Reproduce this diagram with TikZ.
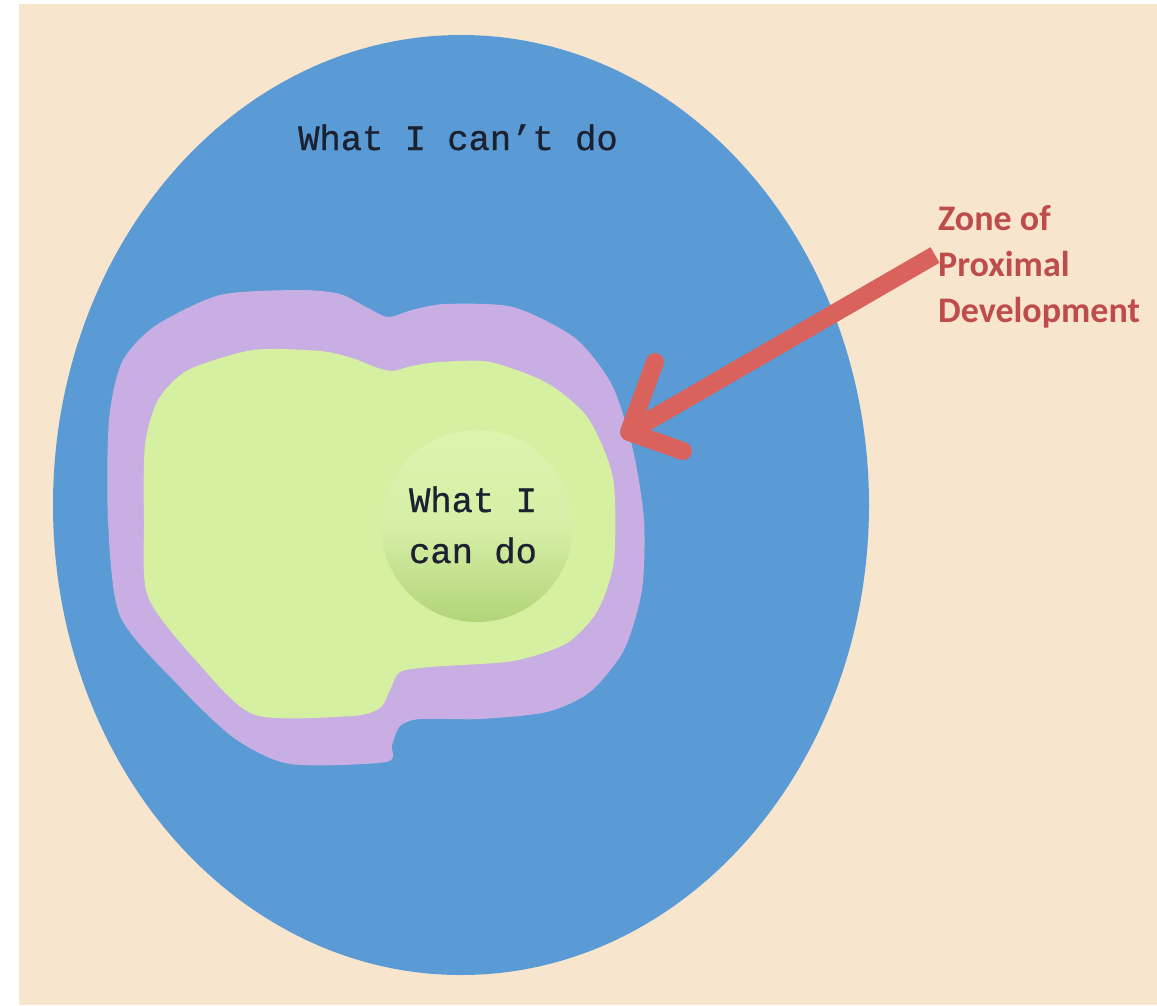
\documentclass[tikz,border=0pt]{standalone}
\usepackage{fontspec}
\setmonofont[FakeBold=0.8]{Liberation Mono}
\newfontfamily\zpdfont{Carlito}
\definecolor{bgbeige}{HTML}{F8E5CD}
\definecolor{cantblue}{HTML}{5B9BD5}
\definecolor{zpdpurple}{HTML}{C8AEE2}
\definecolor{cangreen}{HTML}{D5F0A1}
\definecolor{balltop}{HTML}{DCF4AE}
\definecolor{ballbot}{HTML}{B2D479}
\definecolor{arrowred}{HTML}{D9625C}
\definecolor{zpdtext}{HTML}{BE4C4B}
\definecolor{inktext}{HTML}{1B2130}
\tikzset{
  monotext/.style={font=\ttfamily\fontsize{35.5}{51}\selectfont, text=inktext, inner sep=0pt},
  zpdlabel/.style={font=\zpdfont\bfseries\fontsize{36}{46}\selectfont, text=zpdtext, inner sep=0pt, align=left},
  redarrow/.style={draw=arrowred, line width=18pt},
}
\begin{document}
\begin{tikzpicture}[x=1pt,y=-1pt]
\useasboundingbox (0,0) rectangle (1157,1005);
\fill[white] (0,0) rectangle (1157,1005);
\fill[bgbeige] (19,4) rectangle (1157,1005);
% outer ellipse: what I can't do
\fill[cantblue] (461,505) ellipse [x radius=408, y radius=470];
% zone of proximal development (purple blob)
\fill[zpdpurple] plot[smooth cycle, tension=0.45] coordinates {
 (109,420) (122,362) (155,326) (220,295) (300,290) (340,294) (366,307) (388,317)
 (412,310) (445,304) (513,307) (575,338) (612,385) (633,450) (644,520) (642,590)
 (624,650) (590,692) (547,712) (480,719) (420,719) (400,726) (392,745) (386,762)
 (290,764) (234,738) (178,685) (120,616) (108,520)};
% what I can do (green blob)
\fill[cangreen] plot[smooth cycle, tension=0.45] coordinates {
 (145,445) (158,400) (188,370) (253,350) (320,351) (352,358) (375,367) (392,371)
 (412,366) (440,362) (490,362) (547,383) (588,418) (613,478) (614,560) (598,610)
 (567,643) (513,661) (430,667) (400,672) (390,690) (380,708) (352,716) (255,715)
 (200,665) (148,597) (144,520)};
% inner ball
\shade[top color=balltop, bottom color=ballbot, middle color=balltop!85!ballbot] (477,526) circle [radius=96];
% texts
\node[monotext, anchor=base] (cant) at (458,150) {What I can’t do};
\node[monotext, anchor=base, align=center] (can) at (473,563) {What I\\can do};
\node[zpdlabel, anchor=base west] (zpd) at (938,322) {Zone of\\Proximal\\Development};
% arrow
\coordinate (tail) at (935,255);
\coordinate (tip) at (629,432);
\coordinate (armup) at (655,362);
\coordinate (armdown) at (683,451);
\draw[redarrow] (tail) -- (tip);
\draw[redarrow, line cap=round, line join=round] (armup) -- (tip) -- (armdown);
\end{tikzpicture}
\end{document}
